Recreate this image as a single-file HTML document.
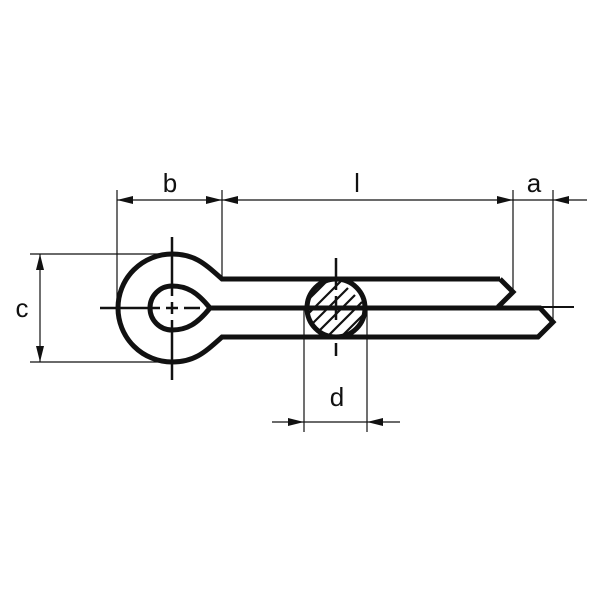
<!DOCTYPE html>
<html><head><style>html,body{margin:0;padding:0;background:#fff}</style></head>
<body>
<svg width="600" height="600" viewBox="0 0 600 600" xmlns="http://www.w3.org/2000/svg">
<defs>
<clipPath id="cc"><circle cx="336" cy="308" r="29"/></clipPath>
</defs>
<g stroke="#111" stroke-width="1.2" fill="none">
<line x1="117" y1="190" x2="117" y2="300"/>
<line x1="222" y1="190" x2="222" y2="278"/>
<line x1="513" y1="190" x2="513" y2="290"/>
<line x1="553" y1="190" x2="553" y2="320"/>
<line x1="30" y1="254" x2="168" y2="254"/>
<line x1="30" y1="362" x2="168" y2="362"/>
<line x1="304" y1="310" x2="304" y2="432"/>
<line x1="367" y1="310" x2="367" y2="432"/>
<line x1="117" y1="200" x2="587" y2="200"/>
<line x1="40" y1="254" x2="40" y2="362"/>
<line x1="272" y1="422" x2="400" y2="422"/>
</g>
<g fill="#111">
<path d="M117,200 L133,196 L133,204 z"/>
<path d="M222,200 L206,196 L206,204 z"/>
<path d="M222,200 L238,196 L238,204 z"/>
<path d="M513,200 L497,196 L497,204 z"/>
<path d="M553,200 L569,196 L569,204 z"/>
<path d="M40,254 L36,270 L44,270 z"/>
<path d="M40,362 L36,346 L44,346 z"/>
<path d="M304,422 L288,418 L288,426 z"/>
<path d="M367,422 L383,418 L383,426 z"/>
</g>
<g clip-path="url(#cc)" stroke="#111" stroke-width="2.2">
<line x1="250" y1="330" x2="320" y2="260"/><line x1="257" y1="337" x2="327" y2="267"/>
<line x1="264" y1="344" x2="334" y2="274"/><line x1="271" y1="351" x2="341" y2="281"/>
<line x1="278" y1="358" x2="348" y2="288"/><line x1="285" y1="365" x2="355" y2="295"/>
<line x1="292" y1="372" x2="362" y2="302"/><line x1="299" y1="379" x2="369" y2="309"/>
<line x1="306" y1="386" x2="376" y2="316"/><line x1="313" y1="393" x2="383" y2="323"/>
<line x1="320" y1="400" x2="390" y2="330"/><line x1="243" y1="323" x2="313" y2="253"/>
<line x1="327" y1="407" x2="397" y2="337"/>
</g>
<g stroke="#111" stroke-width="5" fill="none" stroke-linejoin="miter">
<path d="M500,279 L222,279 C205,264 195,254 172,254 A54,54 0 1 0 172,362 C195,362 205,352 222,337 L538,337 L553,322 L540,308 L210,308"/>
<path d="M500,279 L513,292 L498,307"/>
<path d="M210,308 C197,292 187,286 172,286 A22,22 0 1 0 172,330 C187,330 197,324 210,308"/>
<circle cx="336" cy="308" r="29"/>
</g>
<g stroke="#111" stroke-width="2.5">
<line x1="172" y1="237" x2="172" y2="296"/><line x1="172" y1="302" x2="172" y2="314"/><line x1="172" y1="320" x2="172" y2="380"/>
<line x1="100" y1="308" x2="160" y2="308"/><line x1="166" y1="308" x2="178" y2="308"/><line x1="184" y1="308" x2="200" y2="308"/>
<line x1="336" y1="258" x2="336" y2="290"/><line x1="336" y1="296" x2="336" y2="320"/><line x1="336" y1="343" x2="336" y2="356"/>
<line x1="540" y1="307" x2="574" y2="307" stroke-width="2"/>
</g>
<g font-family="Liberation Sans, sans-serif" font-size="26" fill="#111" text-anchor="middle">
<text x="170" y="192">b</text>
<text x="357" y="192">l</text>
<text x="534" y="192">a</text>
<text x="22" y="317">c</text>
<text x="337" y="406">d</text>
</g>
</svg>
</body></html>
